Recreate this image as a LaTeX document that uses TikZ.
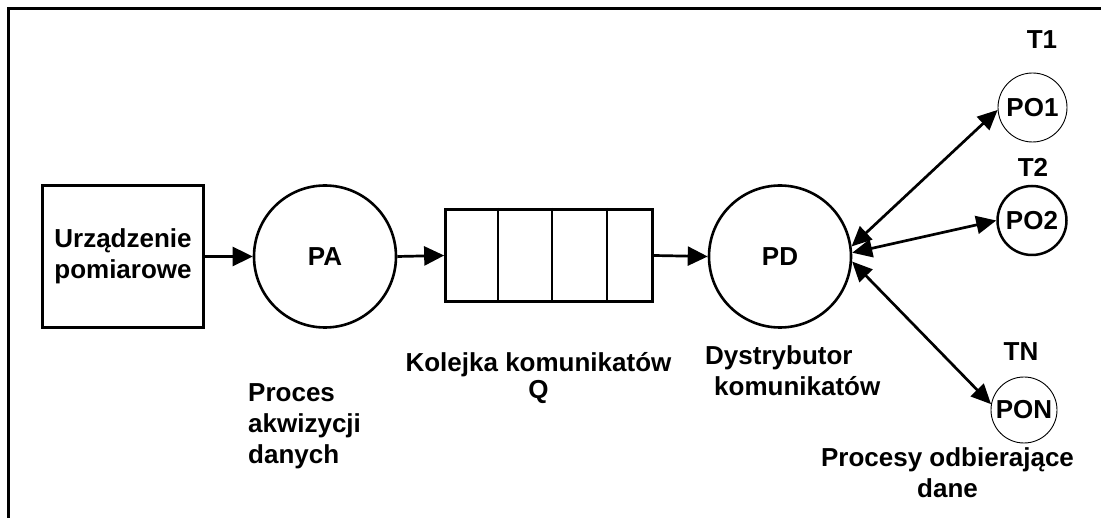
\documentclass[tikz,border=0pt]{standalone}
\usepackage{fontspec}
\setmainfont{Liberation Sans}
\usetikzlibrary{arrows.meta}
\begin{document}
\begin{tikzpicture}[x=1pt,y=-1pt,
  every node/.style={font=\bfseries\fontsize{26}{31}\selectfont},
  boxnode/.style={draw, line width=2.7pt, inner sep=0pt, minimum width=161pt, minimum height=142pt, align=center},
  proc/.style={circle, draw, line width=2.6pt, inner sep=0pt, minimum size=142pt},
  recvthin/.style={circle, draw, line width=0.9pt, inner sep=0pt, minimum size=69pt},
  recvthick/.style={circle, draw, line width=2.5pt, inner sep=0pt, minimum size=69pt},
  lbl/.style={inner sep=0pt},
  arr/.style={line width=2.7pt, -{Triangle[length=20pt,width=19pt]}},
  darr/.style={line width=2.7pt, {Triangle[length=20pt,width=18pt]}-{Triangle[length=20pt,width=18pt]}}
]
\useasboundingbox (0,0) rectangle (1101,518);
% frame
\draw[line width=3pt] (8.8,518) -- (8.8,9) -- (1101,9);

% main nodes
\node[boxnode] (dev) at (123,256.5) {Urządzenie\\pomiarowe};
\node[proc] (PA) at (325,256.5) {PA};
\node[draw, line width=2.7pt, inner sep=0pt, minimum width=207pt, minimum height=92pt] (Q) at (549,255.5) {};
\draw[line width=2.7pt] (498,208) -- (498,303);
\draw[line width=2.7pt] (552,208) -- (552,303);
\draw[line width=2.7pt] (607,208) -- (607,303);
\node[proc] (PD) at (780,256.5) {PD};
\node[recvthin] (PO1) at (1032.5,107.5) {PO1};
\node[recvthick] (PO2) at (1032,220.5) {PO2};
\node[recvthin, minimum size=66pt] (PON) at (1024,410) {PON};

% labels
\node[lbl, anchor=north] (t1) at (1042,30) {T1};
\node[lbl, anchor=north] (t2) at (1033,158) {T2};
\node[lbl, anchor=north] (tn) at (1021,342) {TN};
\node[lbl, anchor=north west, align=left] (lpa) at (248,383) {Proces\\akwizycji\\danych};
\node[lbl, anchor=north, align=center, font=\bfseries\fontsize{26}{27}\selectfont] (lq) at (538.5,352) {Kolejka komunikatów\\Q};
\node[lbl, anchor=north west, align=left] (lpd) at (705,345) {Dystrybutor\\\hspace*{9pt}komunikatów};
\node[lbl, anchor=north, align=center] (lpo) at (947.5,447) {Procesy odbierające\\dane};

% connectors
\draw[arr] (dev.east) -- (PA.west);
\draw[arr] (PA.east) -- (Q.west);
\draw[arr] (Q.east) -- (PD.west);
\draw[darr] (PD.8) -- (PO1.184);
\draw[darr] (PD.3) -- (PO2.180);
\draw[darr] (PD.-4) -- (PON.170);
\end{tikzpicture}
\end{document}
